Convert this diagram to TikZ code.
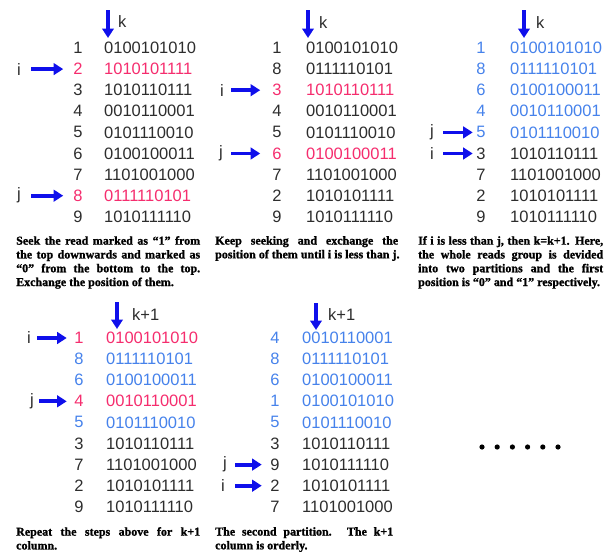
\documentclass[tikz,border=0pt]{standalone}
\usepackage{fontspec}
\setmainfont{Liberation Serif}
\newfontfamily\digitfont{Liberation Sans}
\newfontfamily\capfont[BoldFeatures={FakeBold=1.2}]{Liberation Serif}
\usetikzlibrary{arrows.meta}
\definecolor{hot}{RGB}{245,45,110}
\definecolor{part}{RGB}{70,130,235}
\definecolor{ink}{RGB}{45,45,45}
\definecolor{pointer}{RGB}{15,15,235}
\tikzset{
  num/.style={font=\digitfont\fontsize{16.5}{16.5}\selectfont, inner sep=0pt, anchor=center},
  seq/.style={num, anchor=west},
  lbl/.style={num, text=ink},
  colhead/.style={num, text=ink, anchor=west},
  harrow/.style={draw=pointer, line width=3.8pt, -{Triangle[width=11.5pt,length=9.5pt]}},
  varrow/.style={harrow},
  caption/.style={font=\capfont\bfseries\fontsize{12}{13.8}\selectfont, inner sep=0pt, anchor=north west, align=left},
  dot/.style={circle, fill=black, inner sep=0pt, minimum size=5.2pt},
}
\begin{document}
\begin{tikzpicture}[x=1pt,y=-1pt]
\useasboundingbox (0,0) rectangle (614,554);

% ---------- first pass: seek from both ends ----------
\foreach \n/\bits/\col [count=\r] in {1/0100101010/ink, 2/1010101111/hot, 3/1010110111/ink,
  4/0010110001/ink, 5/0101110010/ink, 6/0100100011/ink, 7/1101001000/ink,
  8/0111110101/hot, 9/1010111110/ink}{
  \node[num,text=\col] (an\r) at (78,{48+21.1*(\r-1)}) {\n};
  \node[seq,text=\col] (as\r) at (104,{48+21.1*(\r-1)}) {\bits};
}
\coordinate (ak1) at (108,10); \coordinate (ak2) at (108,38);
\draw[varrow] (ak1) -- (ak2);
\node[colhead] (ak) at (118,22) {k};
\node[lbl] (ai) at (19,{48+21.1}) {i};
\node[lbl] (aj) at (19,{48+21.1*7}) {j};
\draw[harrow, shorten <=10pt, shorten >=10pt] (ai) -- (an2);
\draw[harrow, shorten <=10pt, shorten >=10pt] (aj) -- (an8);
\node[caption] (acap) at (16,236) {%
  \makebox[184pt][s]{Seek the read marked as “1” from}\\
  \makebox[184pt][s]{the top downwards and marked as}\\
  \makebox[184pt][s]{“0” from the bottom to the top.}\\
  Exchange the position of them.};

% ---------- second pass: keep exchanging ----------
\foreach \n/\bits/\col [count=\r] in {1/0100101010/ink, 8/0111110101/ink, 3/1010110111/hot,
  4/0010110001/ink, 5/0101110010/ink, 6/0100100011/hot, 7/1101001000/ink,
  2/1010101111/ink, 9/1010111110/ink}{
  \node[num,text=\col] (bn\r) at (277,{48+21.1*(\r-1)}) {\n};
  \node[seq,text=\col] (bs\r) at (306,{48+21.1*(\r-1)}) {\bits};
}
\coordinate (bk1) at (308,10); \coordinate (bk2) at (308,38);
\draw[varrow] (bk1) -- (bk2);
\node[colhead] (bk) at (319,23) {k};
\node[lbl] (bi) at (222,{48+21.1*2}) {i};
\node[lbl] (bj) at (221,{48+21.1*5}) {j};
\draw[harrow, shorten <=7pt, shorten >=12pt] (bi) -- (bn3);
\draw[harrow, shorten <=8pt, shorten >=12pt] (bj) -- (bn6);
\node[caption] (bcap) at (215,236) {%
  \makebox[183pt][s]{Keep seeking and exchange the}\\
  position of them until i is less than j.};

% ---------- partition found ----------
\foreach \n/\bits/\col [count=\r] in {1/0100101010/part, 8/0111110101/part, 6/0100100011/part,
  4/0010110001/part, 5/0101110010/part, 3/1010110111/ink, 7/1101001000/ink,
  2/1010101111/ink, 9/1010111110/ink}{
  \node[num,text=\col] (cn\r) at (481,{48+21.1*(\r-1)}) {\n};
  \node[seq,text=\col] (cs\r) at (510,{48+21.1*(\r-1)}) {\bits};
}
\coordinate (ck1) at (524,10); \coordinate (ck2) at (524,38);
\draw[varrow] (ck1) -- (ck2);
\node[colhead] (ck) at (536,23) {k};
\node[lbl] (cj) at (432,{48+21.1*4}) {j};
\node[lbl] (ci) at (432,{48+21.1*5}) {i};
\draw[harrow, shorten <=9pt, shorten >=3.5pt] (cj) -- (cn5);
\draw[harrow, shorten <=9pt, shorten >=3.5pt] (ci) -- (cn6);
\node[caption] (ccap) at (418,236) {%
  \makebox[185pt][s]{If i is less than j, then k=k+1. Here,}\\
  \makebox[185pt][s]{the whole reads group is devided}\\
  \makebox[185pt][s]{into two partitions and the first}\\
  position is “0” and “1” respectively.};

% ---------- next column, first partition ----------
\foreach \n/\bits/\col [count=\r] in {1/0100101010/hot, 8/0111110101/part, 6/0100100011/part,
  4/0010110001/hot, 5/0101110010/part, 3/1010110111/ink, 7/1101001000/ink,
  2/1010101111/ink, 9/1010111110/ink}{
  \node[num,text=\col] (dn\r) at (79,{338+21.1*(\r-1)}) {\n};
  \node[seq,text=\col] (ds\r) at (106,{338+21.1*(\r-1)}) {\bits};
}
\coordinate (dk1) at (117,302); \coordinate (dk2) at (117,329);
\draw[varrow] (dk1) -- (dk2);
\node[colhead] (dk) at (132,315) {k+1};
\node[lbl] (di) at (29,338) {i};
\node[lbl] (dj) at (32,{338+21.1*3}) {j};
\draw[harrow, shorten <=6pt, shorten >=7.5pt] (di) -- (dn1);
\draw[harrow, shorten <=5pt, shorten >=7.5pt] (dj) -- (dn4);
\node[caption] (dcap) at (16,527) {%
  \makebox[184pt][s]{Repeat the steps above for k+1}\\
  column.};

% ---------- next column, second partition ----------
\foreach \n/\bits/\col [count=\r] in {4/0010110001/part, 8/0111110101/part, 6/0100100011/part,
  1/0100101010/part, 5/0101110010/part, 3/1010110111/ink, 9/1010111110/ink,
  2/1010101111/ink, 7/1101001000/ink}{
  \node[num,text=\col] (en\r) at (275,{338+21.1*(\r-1)}) {\n};
  \node[seq,text=\col] (es\r) at (302,{338+21.1*(\r-1)}) {\bits};
}
\coordinate (ek1) at (316,303); \coordinate (ek2) at (316,330);
\draw[varrow] (ek1) -- (ek2);
\node[colhead] (ek) at (328,315) {k+1};
\node[lbl] (ej) at (225,{338+21.1*6}) {j};
\node[lbl] (ei) at (223,{338+21.1*7}) {i};
\draw[harrow, shorten <=8pt, shorten >=8.5pt] (ej) -- (en7);
\draw[harrow, shorten <=10pt, shorten >=8.5pt] (ei) -- (en8);
\node[caption] (ecap) at (215,527) {%
  \makebox[178pt][s]{The second partition. The k+1}\\
  column is orderly.};

% ---------- continuation ----------
\foreach \d in {0,...,5}
  \node[dot] (dot\d) at ({482+15.2*\d},447) {};
\end{tikzpicture}
\end{document}
